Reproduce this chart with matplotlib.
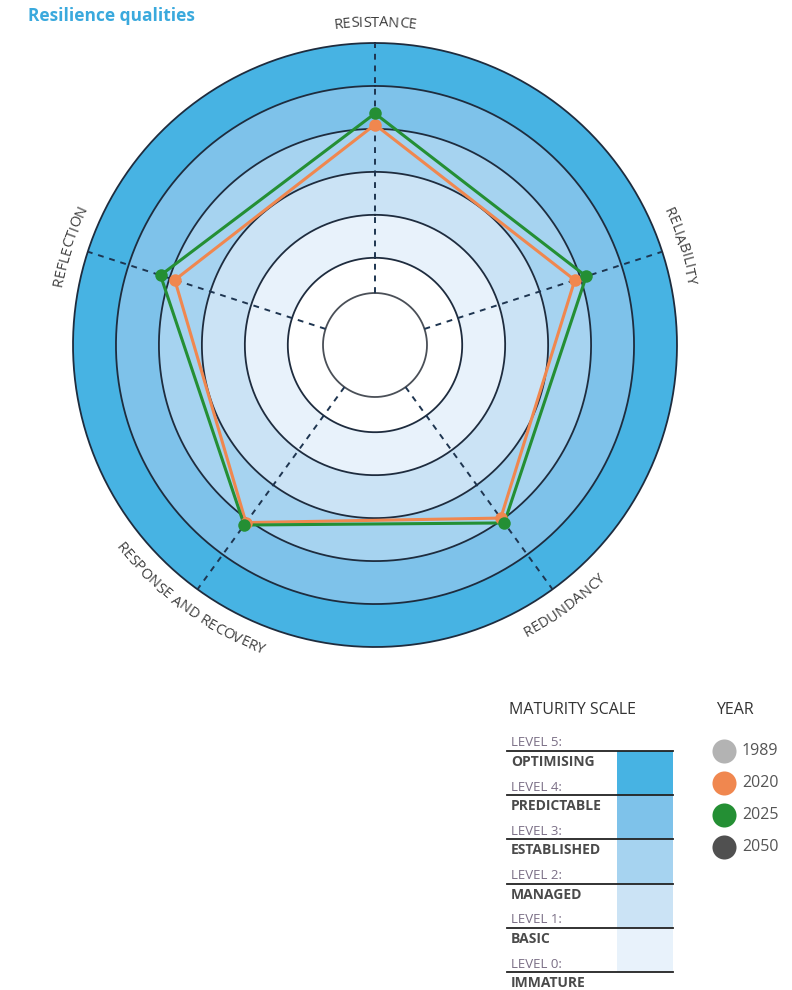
import numpy as np
import matplotlib
matplotlib.use('Agg')
import matplotlib.pyplot as plt
from matplotlib.font_manager import FontProperties
from matplotlib.textpath import TextToPath

plt.rcParams['font.family'] = ['Open Sans', 'DejaVu Sans']

# data
qualities = ['RESISTANCE', 'RELIABILITY', 'REDUNDANCY', 'RESPONSE AND RECOVERY', 'REFLECTION']
levels_2020 = [3.1, 2.86, 2.95, 3.08, 2.87]
levels_2025 = [3.36, 3.14, 3.09, 3.15, 3.22]

maturity_levels = ['LEVEL 5:', 'LEVEL 4:', 'LEVEL 3:', 'LEVEL 2:', 'LEVEL 1:', 'LEVEL 0:']
maturity_names = ['OPTIMISING', 'PREDICTABLE', 'ESTABLISHED', 'MANAGED', 'BASIC', 'IMMATURE']
band_colors = ['#47b3e3', '#7ec2ea', '#a6d3f0', '#cbe3f5', '#e8f2fb']  # level 5-4 ... 1-0

years = ['1989', '2020', '2025', '2050']
year_colors = ['#b3b3b3', '#f0874f', '#248f34', '#505050']

W, H, DPI = 792, 990, 100
fig = plt.figure(figsize=(W / DPI, H / DPI), dpi=DPI)

# polar chart: centre (375, 345) px, outer radius 302 px
cx, cy, R = 375, 345, 302
ax = fig.add_axes([(cx - R) / W, 1 - (cy + R) / H, 2 * R / W, 2 * R / H], projection='polar')
ax.set_theta_zero_location('N')
ax.set_theta_direction(-1)
rmin, rmax = -2.03, 5.0
ax.set_ylim(rmin, rmax)
ax.grid(False)
ax.set_xticks([])
ax.set_yticks([])
ax.spines['polar'].set_visible(False)
px_per_unit = R / (rmax - rmin)

full = np.linspace(0, 2 * np.pi, 400)

# maturity bands
for i, c in enumerate(band_colors):
    lvl = 5 - i
    ax.bar(0, 1, width=2 * np.pi, bottom=lvl - 1, color=c, edgecolor='none', zorder=1)

r_inner = rmin + 52 / px_per_unit
for lvl in range(0, 6):
    ax.plot(full, np.full_like(full, lvl), color='#1e2c3e', lw=1.3, zorder=2, clip_on=False)
ax.plot(full, np.full_like(full, r_inner), color='#4a4f57', lw=1.3, zorder=2)

angles = np.arange(len(qualities)) * 2 * np.pi / len(qualities)
for a in angles:
    ax.plot([a, a], [r_inner, rmax], color='#1e3550', lw=1.4, ls=(0, (3, 3)), zorder=3)

# series
th = np.append(angles, angles[0])
for vals, col in [(levels_2020, year_colors[1]), (levels_2025, year_colors[2])]:
    v = np.append(vals, vals[0])
    ax.plot(th, v, color=col, lw=2.2, zorder=4)
    ax.plot(angles, vals, 'o', color=col, ms=9, zorder=5, markeredgewidth=0)


# curved axis labels
def arc_text(text, theta_c, r_px, outward, size=10.5):
    prop = FontProperties(family=['Open Sans', 'DejaVu Sans'], size=size)
    ttp = TextToPath()

    def width(s):
        if not s:
            return 0.0
        return ttp.get_text_width_height_descent(s, prop, ismath=False)[0] * DPI / 72

    total = width(text)
    r_lvl = rmin + r_px / px_per_unit
    for i, ch in enumerate(text):
        # centre of this char, measured on the prefix so kerning is kept
        centre = (width(text[:i]) + width(text[:i + 1])) / 2
        off = (centre - total / 2) / r_px
        if outward:
            t = theta_c + off
            rot = -np.degrees(t)
        else:
            t = theta_c - off
            rot = 180 - np.degrees(t)
        ax.text(t, r_lvl, ch, rotation=rot, rotation_mode='anchor', ha='center', va='center',
                fontproperties=prop, color='#3d3d3d', clip_on=False, zorder=6)


for q, a in zip(qualities, angles):
    deg = np.degrees(a)
    outward = not (90 < deg < 270)
    arc_text(q, a, 322 if outward else 325, outward)

# title
fig.text(28 / W, 1 - 16 / H, 'Resilience qualities', fontsize=12.5, fontweight='bold',
         color='#3aa9dd', ha='left', va='center')

# legend overlay
lax = fig.add_axes([0, 0, 1, 1])
lax.set_xlim(0, W)
lax.set_ylim(H, 0)
lax.axis('off')

lax.text(509, 710, 'MATURITY SCALE', fontsize=11.5, color='#333333', va='center', ha='left')
lax.text(716, 710, 'YEAR', fontsize=11.5, color='#333333', va='center', ha='left')

line_y = [751 + 44.2 * i for i in range(len(maturity_levels))]
for i, c in enumerate(band_colors):
    lax.fill_between([617, 673], line_y[i], line_y[i + 1], color=c, lw=0)
for y, lv, nm in zip(line_y, maturity_levels, maturity_names):
    lax.plot([507, 673], [y, y], color='#222222', lw=1.3)
    lax.text(511, y - 8, lv, fontsize=9.5, color='#7a6e85', va='center', ha='left')
    lax.text(511, y + 11, nm, fontsize=10, fontweight='bold', color='#4a4a4a', va='center', ha='left')

for i, (yr, col) in enumerate(zip(years, year_colors)):
    y = 751 + 32 * i
    lax.scatter([724], [y], s=300, color=col, lw=0)
    lax.text(742, y, yr, fontsize=11.5, color='#555555', va='center', ha='left')

fig.savefig('out.png', dpi=DPI)
